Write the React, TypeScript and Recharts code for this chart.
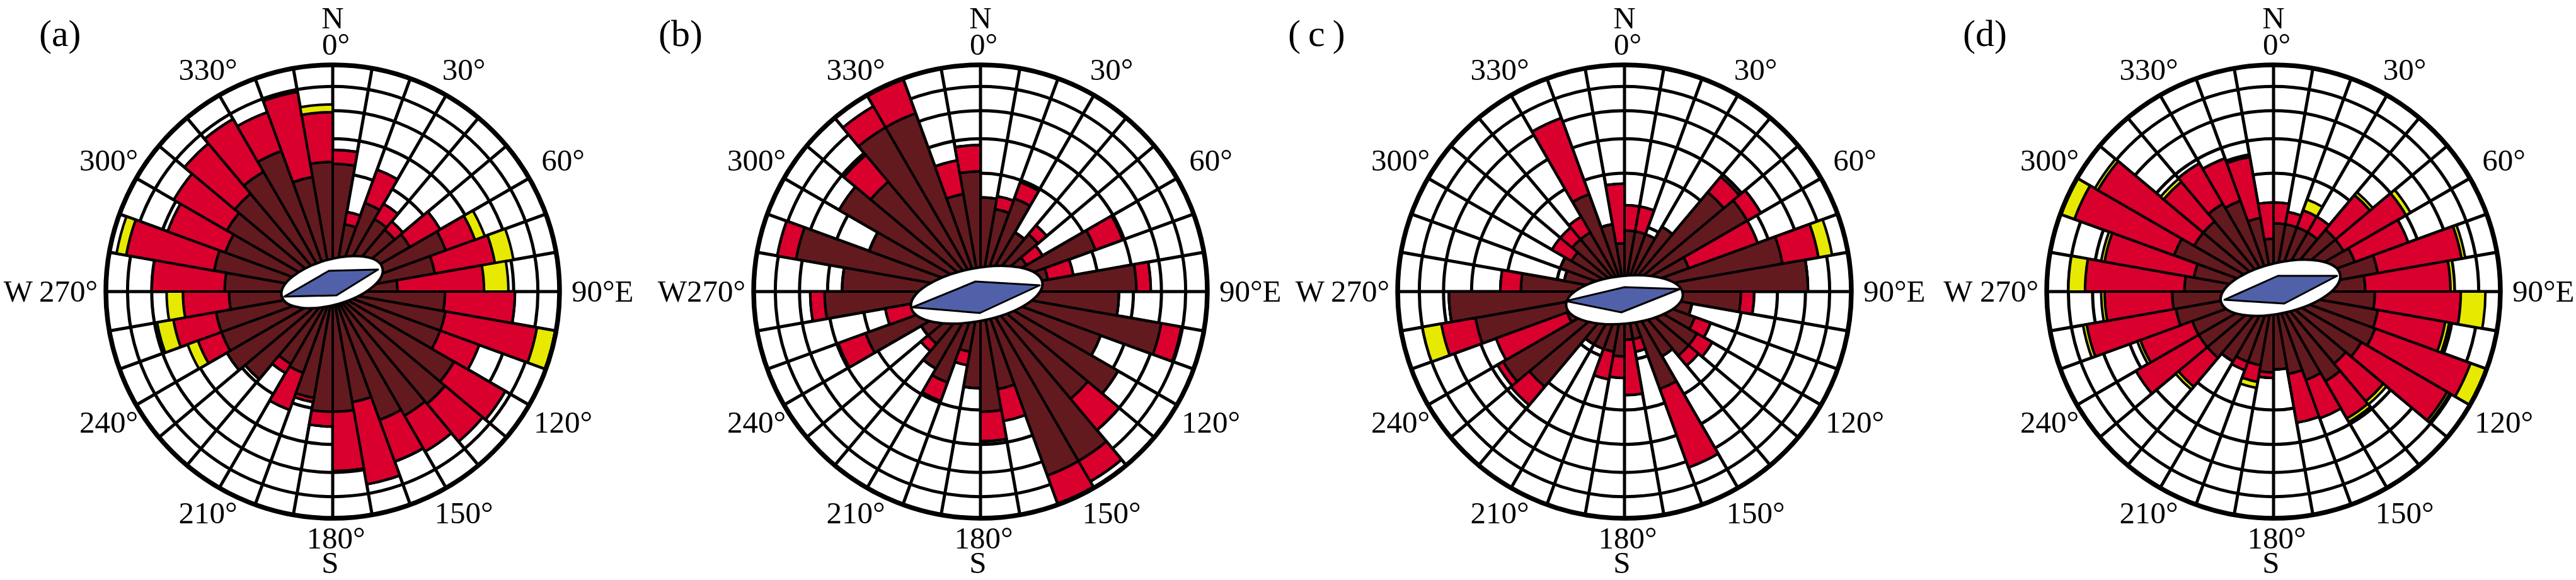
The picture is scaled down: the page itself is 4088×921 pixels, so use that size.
import React from 'react';
import { RadialBarChart, RadialBar, PolarAngleAxis, PolarRadiusAxis, PolarGrid } from 'recharts';

// ---- categories (10-degree direction bins, clockwise from North) ----
const DIRECTIONS = ['0','10','20','30','40','50','60','70','80','90','100','110','120','130','140','150','160','170','180','190','200','210','220','230','240','250','260','270','280','290','300','310','320','330','340','350'];
// ring values of the equal-area (sqrt) radial scale
const RING_TICKS = [1, 3, 5, 7, 9, 11];
const RADIAL_MAX = 11;

// ---- panel (a) ----
const A_DARK = [3.6,3.5,1.0,1.9,1.5,1.4,1.7,3.1,2.3,0.9,2.7,2.8,2.8,4.2,4.6,4.4,4.0,2.7,3.1,3.1,2.5,1.6,1.5,2.8,3.2,3.0,3.0,2.3,2.5,3.1,2.8,3.2,3.5,4.1,4.8,2.9];
const A_RED = [3.3,0.8,0.4,1.7,0.7,0.4,1.6,1.8,3.5,4.0,4.4,6.4,2.4,4.3,3.6,2.9,3.0,5.5,3.8,0.8,0.2,1.8,0.4,0,0,1.4,2.6,2.5,4.5,6.3,3.8,4.0,4.5,4.4,3.0,5.9];
const A_YELLOW = [0.6,0,0,0,0,0,0,0.7,1.4,1.7,0,1.7,0,0,0,0,0,0,0,0,0,0,0,0,0,0.7,1.2,1.1,0,0.9,0,0,0,0,0,0];

// ---- panel (b) ----
const B_DARK = [3.1,1.9,1.5,2.1,1.0,1.2,0.6,3.2,1.0,5.2,4.1,7.2,3.5,5.4,4.2,8.2,8.2,2.1,3.1,2.0,0.8,2.0,1.7,1.0,1.0,3.2,1.0,5.2,4.1,7.5,3.0,5.7,4.4,7.7,7.7,2.1];
const B_RED = [1.5,0,0.5,0.8,0,0.4,0.5,1.7,0.9,1.0,0,1.7,0,0,2.8,2.1,2.7,1.6,1.7,0,0.4,0.9,0,0.3,0,1.7,1.0,1.0,0,1.6,0,0,2.4,2.1,3.2,1.7];
const B_YELLOW = [0,0,0,0,0,0,0,0,0,0,0,0,0,0,0,0,0,0,0,0,0,0,0,0,0,0,0,0,0,0,0,0,0,0,0,0];

// ---- panel (c) ----
const C_DARK = [0.5,0.8,0.8,0.8,1.2,3.6,4.3,1.0,5.5,7.2,2.9,1.0,1.2,1.5,1.5,1.2,2.3,0.5,0.5,0.9,0.8,0.8,0.8,3.3,4.2,0.8,4.9,6.6,2.3,0.8,1.0,0.8,1.0,1.0,2.3,1.0];
const C_RED = [2.0,0.8,0.8,0,0,1.2,1.0,3.3,2.8,0,0.7,0,0.6,0.7,0.5,0,5.2,0.3,1.8,0.7,0.9,0,0,1.4,0.4,3.2,2.5,0,1.0,0,0,0.7,0.5,0.6,5.0,0];
const C_YELLOW = [0,0,0,0,0,0,0,0,1.2,0,0,0,0,0,0,0,0,0,0,0,0,0,0,0,0,0,1.6,0,0,0,0,0,0,0,0,0];

// ---- panel (d) ----
const D_DARK = [0.6,1.0,1.0,1.0,1.0,1.4,1.4,1.6,2.4,1.8,2.2,2.4,2.5,2.2,1.9,2.3,1.9,1.5,1.3,1.4,1.2,1.2,1.4,1.6,1.6,1.6,2.1,2.2,1.7,1.4,2.4,1.8,1.8,2.2,2.0,1.2];
const D_RED = [1.1,0.7,0.4,0.6,0.6,2.0,3.6,2.8,5.4,4.9,5.3,4.1,6.9,6.4,2.5,2.3,2.0,2.3,0,0.2,0.6,0.3,0,1.7,3.8,2.7,5.6,3.9,5.9,4.9,7.2,7.0,2.6,2.5,2.3,2.8];
const D_YELLOW = [0,0,0,0.45,0,0.2,0.35,0,0.3,0.3,2.1,0.3,1.5,0.25,0.25,0.25,0,0,0,0,0.25,0,0,0.2,0,0.2,0.3,0.25,1.4,0.25,1.3,0.3,0.25,0,0,0.15];

const DARK = '#621a1f';
const RED = '#d9002d';
const YELLOW = '#e7ea00';
const BLUE = '#5161a9';
const FONT = "'Liberation Serif', Tinos, 'Times New Roman', serif";

const W = 1100;
const H = 921;
const CX = 550;
const CY = 463;
const R = 360;

const PANELS = [
  { id: 'a', cx: 528, label: '(a)', labelX: 62, west: 'W\u2009270°', dark: A_DARK, red: A_RED, yellow: A_YELLOW,
    ell: { x: 527, y: 448, rx: 83, ry: 36, rot: -16, pts: [[-76, 23], [-5, -18], [73, -20], [7, 21]] } },
  { id: 'b', cx: 1556, label: '(b)', labelX: 1045, west: 'W270°', dark: B_DARK, red: B_RED, yellow: B_YELLOW,
    ell: { x: 1550, y: 468, rx: 106, ry: 42, rot: -11, pts: [[-102, 20], [-2, -21], [100, -15], [5, 29]] } },
  { id: 'c', cx: 2578, label: '(\u2009c\u2009)', labelX: 2044, west: 'W\u2009270°', dark: C_DARK, red: C_RED, yellow: C_YELLOW,
    ell: { x: 2578, y: 476, rx: 93, ry: 38, rot: -6, pts: [[-93, 2], [0, -20], [88, -17], [-5, 20]] } },
  { id: 'd', cx: 3608, label: '(d)', labelX: 3115, west: 'W 270°', dark: D_DARK, red: D_RED, yellow: D_YELLOW,
    ell: { x: 3619, y: 457, rx: 97, ry: 40, rot: -13, pts: [[-89, 19], [-4, -19], [90, -19], [6, 25]] } },
];

const GRID_ANGLES = DIRECTIONS.map((d) => 90 - Number(d));

const txt = { fontFamily: FONT, fontSize: 49, fill: '#000' } as React.CSSProperties;

function makeTick(westText: string) {
  return (props: any) => {
    const deg = Number(props?.payload?.value);
    if (!Number.isFinite(deg) || deg % 30 !== 0) return <g />;
    if (deg === 90) {
      return (
        <text x={CX + 379} y={CY + 16} textAnchor="start" style={txt}>90°E</text>
      );
    }
    if (deg === 270) {
      return (
        <text x={CX - 373} y={CY + 16} textAnchor="end" style={txt}>{westText}</text>
      );
    }
    const t = (deg * Math.PI) / 180;
    const s = Math.sin(t);
    const c = Math.cos(t);
    const rl = 392 + 28 * Math.abs(s);
    const x = CX + rl * s + 5;
    const y = CY - rl * c + 16;
    return (
      <g>
        <text x={x} y={y} textAnchor="middle" style={txt}>{`${deg}°`}</text>
        {deg === 0 && (
          <text x={CX} y={45} textAnchor="middle" style={txt}>N</text>
        )}
        {deg === 180 && (
          <text x={CX - 4} y={910} textAnchor="middle" style={txt}>S</text>
        )}
      </g>
    );
  };
}

function Rose({ p }: { p: typeof PANELS[number] }) {
  const rows = DIRECTIONS.map((d, i) => ({ dir: d, dark: p.dark[i], red: p.red[i], yellow: p.yellow[i] }));
  return (
    <div style={{ position: 'absolute', left: p.cx - CX, top: 0, width: W, height: H }}>
      <RadialBarChart
        width={W}
        height={H}
        data={rows}
        layout="centric"
        cx={CX}
        cy={CY}
        innerRadius={0}
        outerRadius={R}
        startAngle={90}
        endAngle={-270}
        barCategoryGap={0}
        barGap={0}
        margin={{ top: 0, right: 0, bottom: 0, left: 0 }}
      >
        <PolarGrid gridType="circle" polarAngles={GRID_ANGLES} stroke="#000" strokeWidth={5} strokeOpacity={1} />
        <PolarAngleAxis dataKey="dir" type="category" axisLine={false} tickLine={false} tick={makeTick(p.west)} />
        <PolarRadiusAxis type="number" scale="sqrt" domain={[0, RADIAL_MAX]} ticks={RING_TICKS} tick={false} axisLine={false} tickLine={false} />
        <RadialBar dataKey="dark" stackId="s" fill={DARK} stroke="#000" strokeWidth={4} isAnimationActive={false} />
        <RadialBar dataKey="red" stackId="s" fill={RED} stroke="#000" strokeWidth={4} isAnimationActive={false} />
        <RadialBar dataKey="yellow" stackId="s" fill={YELLOW} stroke="#000" strokeWidth={4} isAnimationActive={false} />
      </RadialBarChart>
    </div>
  );
}

export default function App() {
  return (
    <div style={{ position: 'absolute', left: 0, top: 0, width: 4088, height: 921, background: '#fff', overflow: 'hidden', fontFamily: FONT }}>
      {PANELS.map((p) => (
        <Rose key={p.id} p={p} />
      ))}
      <svg width={4088} height={921} style={{ position: 'absolute', left: 0, top: 0, pointerEvents: 'none' }}>
        {PANELS.map((p) => (
          <g key={p.id}>
            <circle cx={p.cx} cy={CY} r={R} fill="none" stroke="#000" strokeWidth={7.5} />
            <g transform={`translate(${p.ell.x},${p.ell.y})`}>
              <ellipse rx={p.ell.rx} ry={p.ell.ry} transform={`rotate(${p.ell.rot})`} fill="#fff" stroke="#000" strokeWidth={4} />
              <polygon
                points={p.ell.pts.map((q) => q.join(',')).join(' ')}
                fill={BLUE}
                stroke="#000"
                strokeWidth={3}
                strokeLinejoin="round"
              />
            </g>
            <text x={p.labelX} y={73} style={{ fontFamily: FONT, fontSize: 60, fill: '#000' }}>{p.label}</text>
          </g>
        ))}
      </svg>
    </div>
  );
}
